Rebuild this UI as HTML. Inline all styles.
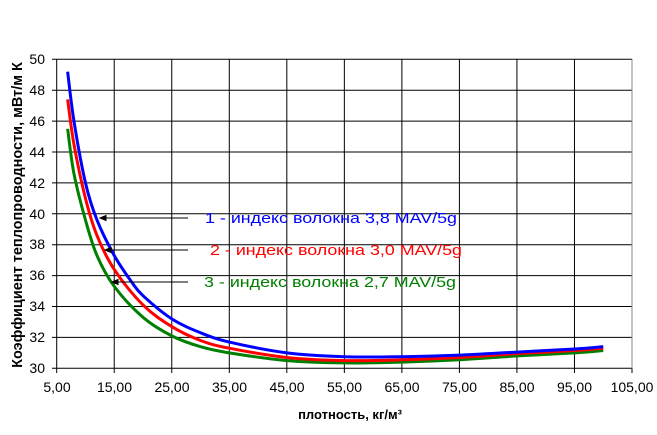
<!DOCTYPE html>
<html><head><meta charset="utf-8"><style>
body{margin:0;background:#fff;width:657px;height:430px;overflow:hidden}
svg{font-family:"Liberation Sans",sans-serif}
</style></head><body>
<svg id="s" width="657" height="430" xmlns="http://www.w3.org/2000/svg">
<g id="grid" stroke="#000" stroke-width="1"></g>
<g font-size="14" fill="#000">
<text x="45" y="64" text-anchor="end">50</text>
<text x="45" y="95" text-anchor="end">48</text>
<text x="45" y="126" text-anchor="end">46</text>
<text x="45" y="157" text-anchor="end">44</text>
<text x="45" y="188" text-anchor="end">42</text>
<text x="45" y="219" text-anchor="end">40</text>
<text x="45" y="249" text-anchor="end">38</text>
<text x="45" y="280" text-anchor="end">36</text>
<text x="45" y="311" text-anchor="end">34</text>
<text x="45" y="342" text-anchor="end">32</text>
<text x="45" y="373" text-anchor="end">30</text>
<text x="57" y="392" text-anchor="middle">5,00</text>
<text x="114.5" y="392" text-anchor="middle">15,00</text>
<text x="172" y="392" text-anchor="middle">25,00</text>
<text x="229.5" y="392" text-anchor="middle">35,00</text>
<text x="287" y="392" text-anchor="middle">45,00</text>
<text x="344.5" y="392" text-anchor="middle">55,00</text>
<text x="402" y="392" text-anchor="middle">65,00</text>
<text x="459.5" y="392" text-anchor="middle">75,00</text>
<text x="517" y="392" text-anchor="middle">85,00</text>
<text x="574.5" y="392" text-anchor="middle">95,00</text>
<text x="632" y="392" text-anchor="middle">105,00</text>
</g>
<text x="350" y="419" font-size="13" font-weight="bold" text-anchor="middle">плотность, кг/м³</text>
<text transform="translate(22,215) rotate(-90)" font-size="14.5" font-weight="bold" text-anchor="middle">Коэффициент теплопроводности, мВт/м К</text>
<g id="curves" fill="none" stroke-width="3"></g>
<g stroke="#000" stroke-width="1">
<line x1="100" y1="218" x2="188" y2="218"/><polygon points="100,218 106,215.5 106,220.5"/>
<line x1="105" y1="250" x2="188" y2="250"/><polygon points="105,250 111,247.5 111,252.5"/>
<line x1="112" y1="282" x2="188" y2="282"/><polygon points="112,282 118,279.5 118,284.5"/>
</g>
<g font-size="15">
<text x="205" y="223" fill="#0000ff" textLength="252" lengthAdjust="spacingAndGlyphs">1 - индекс волокна 3,8 MAV/5g</text>
<text x="210" y="255" fill="#ff0000" textLength="252" lengthAdjust="spacingAndGlyphs">2 - индекс волокна 3,0 MAV/5g</text>
<text x="204" y="287" fill="#008000" textLength="252" lengthAdjust="spacingAndGlyphs">3 - индекс волокна 2,7 MAV/5g</text>
</g>
</svg>
<script>
const X=v=>56.7+(v-5)*5.753, Y=v=>368.3-(v-30)*15.45;
const g=document.getElementById('grid');let h='';
for(let i=0;i<=10;i++){const y=Y(30+2*i);h+=`<line x1="52" y1="${y}" x2="632" y2="${y}"/>`;}
for(let i=0;i<=10;i++){const x=X(5+10*i);h+=`<line x1="${x}" y1="59.3" x2="${x}" y2="373"/>`;}
h+=`<line x1="632" y1="59.3" x2="632" y2="368.3" stroke="#888"/>`;
g.innerHTML=h;
const D={"#0000ff":[[6.9,49.2],[8,46],[10,42],[12,39.6],[15,37.3],[18,35.6],[20,34.7],[25,33.2],[30,32.3],[35,31.7],[45,31.0],[55,30.75],[65,30.75],[75,30.85],[85,31.05],[95,31.25],[100,31.4]],
"#ff0000":[[6.9,47.4],[8,44.5],[10,41],[12,38.6],[15,36.4],[20,34.1],[25,32.7],[30,31.8],[35,31.3],[45,30.7],[55,30.5],[65,30.55],[75,30.7],[85,30.95],[95,31.15],[100,31.3]],
"#008000":[[6.9,45.5],[8,42.6],[10,39.6],[12,37.3],[15,35.3],[20,33.3],[25,32.1],[30,31.4],[35,31.0],[45,30.5],[55,30.35],[65,30.4],[75,30.55],[85,30.8],[95,31.0],[100,31.15]]};
let c='';
for(const col of ["#008000","#ff0000","#0000ff"]){const p=D[col].map(a=>[X(a[0]),Y(a[1])]);
let d=`M${p[0][0]},${p[0][1]}`;
for(let i=0;i<p.length-1;i++){const p0=p[Math.max(0,i-1)],p1=p[i],p2=p[i+1],p3=p[Math.min(p.length-1,i+2)];
d+=`C${p1[0]+(p2[0]-p0[0])/6},${p1[1]+(p2[1]-p0[1])/6} ${p2[0]-(p3[0]-p1[0])/6},${p2[1]-(p3[1]-p1[1])/6} ${p2[0]},${p2[1]}`;}
c+=`<path d="${d}" stroke="${col}"/>`;}
document.getElementById('curves').innerHTML=c;
</script>
</body></html>
